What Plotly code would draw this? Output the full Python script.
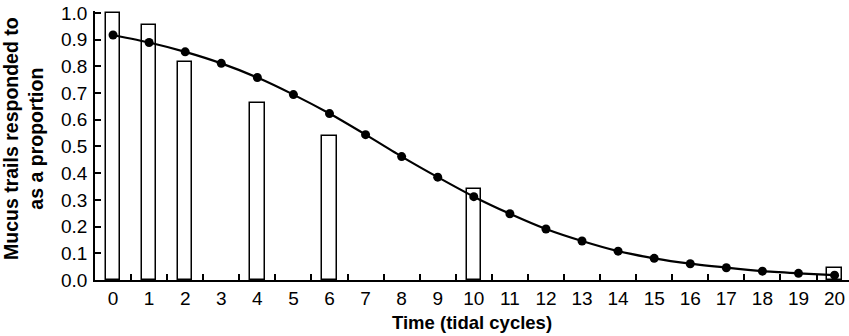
import plotly.graph_objects as go

cycles = [str(i) for i in range(21)]
line_vals = [0.917, 0.889, 0.854, 0.811, 0.758, 0.694, 0.623, 0.544, 0.462, 0.385,
             0.312, 0.248, 0.191, 0.146, 0.108, 0.081, 0.061, 0.046, 0.033, 0.025, 0.018]
bar_cycles = ["0", "1", "2", "4", "6", "10", "20"]
bar_vals = [1.0, 0.956, 0.816, 0.663, 0.538, 0.342, 0.044]
y_ticks = [round(i * 0.1, 1) for i in range(11)]

font_family = "Liberation Sans, Arial, sans-serif"

fig = go.Figure()
fig.add_trace(go.Bar(
    x=bar_cycles, y=bar_vals, width=0.4,
    marker=dict(color="white", line=dict(color="black", width=1.5)),
    showlegend=False, cliponaxis=False,
))
fig.add_trace(go.Scatter(
    x=cycles, y=line_vals, mode="lines+markers",
    line=dict(color="black", width=2.2, shape="spline", smoothing=0.6),
    marker=dict(color="black", size=9),
    showlegend=False, cliponaxis=False,
))

fig.update_layout(
    width=849, height=336,
    margin=dict(l=95, r=0, t=11, b=56),
    paper_bgcolor="white", plot_bgcolor="white",
    font=dict(family=font_family, size=18, color="black"),
    bargap=0,
    xaxis=dict(
        type="category", categoryorder="array", categoryarray=cycles,
        range=[-0.5, 20.4], tickson="boundaries", ticks="inside", ticklen=6,
        tickwidth=1.5, tickcolor="black", showline=True, linecolor="black",
        linewidth=1.5, showgrid=False, zeroline=False,
        tickfont=dict(size=19),
    ),
    yaxis=dict(
        range=[0, 1.007], tickvals=y_ticks, tickformat=".1f", ticks="inside",
        ticklen=6, tickwidth=1.5, tickcolor="black", showline=True,
        linecolor="black", linewidth=1.5, showgrid=False, zeroline=False,
        tickfont=dict(size=19), ticklabelstandoff=2,
    ),
    annotations=[
        dict(text="<b>Time (tidal cycles)</b>", xref="paper", yref="paper",
             x=0.5, y=0, yanchor="top", xanchor="center", yshift=-30,
             showarrow=False, font=dict(size=18.5)),
        dict(text="<b>Mucus trails responded to<br>as a proportion</b>",
             xref="paper", yref="paper", x=0, y=0.5, xanchor="right",
             yanchor="middle", xshift=-46, yshift=7, textangle=-90,
             showarrow=False, font=dict(size=19.5)),
    ],
)

fig.write_html("out.html")
